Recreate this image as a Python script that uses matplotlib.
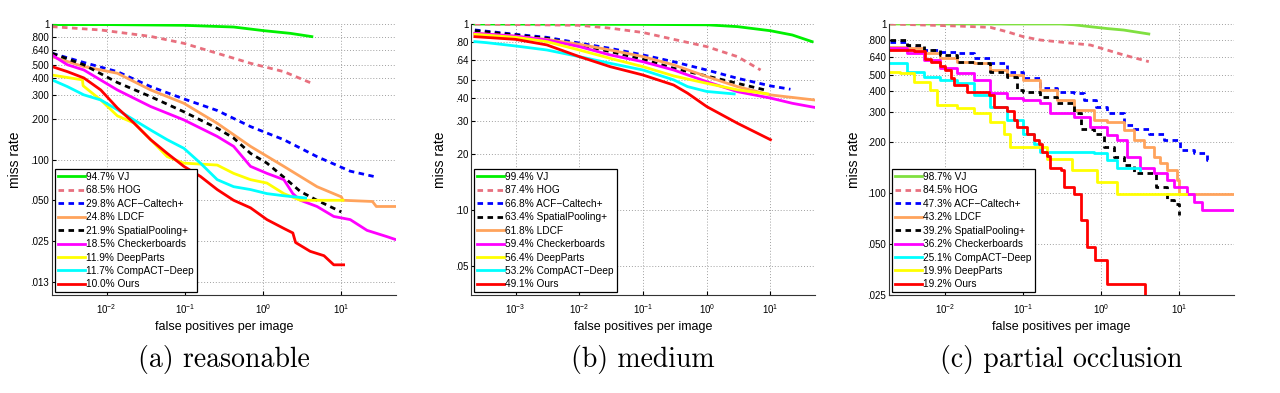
import matplotlib
matplotlib.use('Agg')
import matplotlib.pyplot as plt
from matplotlib.ticker import FixedLocator, FixedFormatter, NullLocator

plt.rcParams['font.family'] = ['Liberation Sans', 'DejaVu Sans']

# legend order and log-average miss rates per subset
names_a = ['VJ', 'HOG', 'ACF−Caltech+', 'LDCF', 'SpatialPooling+', 'Checkerboards',
           'DeepParts', 'CompACT−Deep', 'Ours']
scores_a = [94.7, 68.5, 29.8, 24.8, 21.9, 18.5, 11.9, 11.7, 10.0]
names_b = ['VJ', 'HOG', 'ACF−Caltech+', 'SpatialPooling+', 'LDCF', 'Checkerboards',
           'DeepParts', 'CompACT−Deep', 'Ours']
scores_b = [99.4, 87.4, 66.8, 63.4, 61.8, 59.4, 56.4, 53.2, 49.1]
names_c = ['VJ', 'HOG', 'ACF−Caltech+', 'LDCF', 'SpatialPooling+', 'Checkerboards',
           'CompACT−Deep', 'DeepParts', 'Ours']
scores_c = [98.7, 84.5, 47.3, 43.2, 39.2, 36.2, 25.1, 19.9, 19.2]

# (fppi, miss rate) points
# (a) reasonable
vj_a = [(0.002, 0.99), (0.01, 0.99), (0.097, 0.978), (0.42, 0.95), (1.02, 0.893),
        (2.23, 0.853), (4.2, 0.807)]
hog_a = [(0.002, 0.956), (0.0084, 0.903), (0.0365, 0.81), (0.097, 0.72), (0.259, 0.608),
         (0.69, 0.513), (1.84, 0.445), (4.2, 0.365)]
acf_a = [(0.002, 0.608), (0.0051, 0.52), (0.0137, 0.445), (0.0365, 0.345), (0.097, 0.28),
         (0.259, 0.23), (0.69, 0.175), (1.84, 0.14), (4.89, 0.105), (13, 0.082), (25.9, 0.075)]
ldcf_a = [(0.002, 0.574), (0.0051, 0.485), (0.0137, 0.433), (0.0365, 0.326), (0.097, 0.26),
          (0.259, 0.185), (0.69, 0.125), (1.84, 0.089), (4.89, 0.063), (10, 0.053),
          (10.5, 0.05), (25, 0.049), (28, 0.045), (50, 0.045)]
sp_a = [(0.002, 0.608), (0.0051, 0.5), (0.0137, 0.37), (0.0365, 0.291), (0.097, 0.225),
        (0.259, 0.17), (0.42, 0.144), (0.69, 0.111), (1.12, 0.094), (1.84, 0.074),
        (3.0, 0.058), (4.89, 0.05), (10, 0.041)]
cb_a = [(0.002, 0.59), (0.00315, 0.5), (0.0051, 0.458), (0.0137, 0.326), (0.0365, 0.246),
        (0.097, 0.196), (0.259, 0.148), (0.42, 0.125), (0.69, 0.089), (1.12, 0.079),
        (1.84, 0.071), (2.4, 0.056), (3.0, 0.05), (4.89, 0.045), (8, 0.038), (13, 0.036),
        (21.3, 0.03), (38, 0.027), (50, 0.0256)]
dp_a = [(0.002, 0.42), (0.0049, 0.387), (0.005, 0.35), (0.0084, 0.275), (0.0137, 0.21),
        (0.0223, 0.186), (0.0365, 0.14), (0.0594, 0.105), (0.097, 0.094), (0.259, 0.091),
        (0.42, 0.079), (0.69, 0.071), (1.12, 0.067), (1.84, 0.056), (3.0, 0.05), (10.5, 0.05)]
cad_a = [(0.002, 0.387), (0.00315, 0.345), (0.0051, 0.3), (0.0084, 0.275), (0.0137, 0.233),
         (0.0223, 0.196), (0.0365, 0.165), (0.0594, 0.14), (0.097, 0.121), (0.158, 0.094),
         (0.259, 0.071), (0.42, 0.063), (0.69, 0.06), (1.12, 0.056), (1.84, 0.054), (3.5, 0.052)]
ours_a = [(0.002, 0.485), (0.00315, 0.445), (0.0051, 0.4), (0.0084, 0.326), (0.0137, 0.24),
          (0.0223, 0.186), (0.0365, 0.14), (0.0594, 0.111), (0.097, 0.089), (0.158, 0.075),
          (0.259, 0.06), (0.42, 0.05), (0.69, 0.044), (1.12, 0.036), (1.84, 0.031),
          (2.4, 0.0287), (2.6, 0.0244), (4.0, 0.021), (6.0, 0.0195), (8.0, 0.0167), (10.7, 0.0167)]

# (b) medium
vj_b = [(2.3e-4, 1.0), (0.1, 0.995), (1.0, 0.99), (3.03, 0.968), (10, 0.92), (22, 0.873),
        (45, 0.804)]
hog_b = [(2.3e-4, 1.0), (0.01, 0.984), (0.0305, 0.95), (0.1, 0.9), (0.303, 0.827),
         (1.0, 0.756), (3.03, 0.668), (7.0, 0.566)]
acf_b = [(2.3e-4, 0.929), (1e-3, 0.88), (3.1e-3, 0.848), (0.01, 0.79), (0.0305, 0.74),
         (0.1, 0.682), (0.303, 0.627), (1.0, 0.566), (3.03, 0.511), (10, 0.465), (20.6, 0.446)]
sp_b = [(2.3e-4, 0.921), (1e-3, 0.873), (3.1e-3, 0.838), (0.01, 0.772), (0.0305, 0.711),
        (0.1, 0.646), (0.303, 0.578), (1.0, 0.526), (3.03, 0.48), (9, 0.439)]
ldcf_b = [(2.3e-4, 0.891), (1e-3, 0.855), (3.1e-3, 0.827), (0.01, 0.778), (0.0305, 0.725),
          (0.1, 0.668), (0.303, 0.603), (1.0, 0.522), (3.03, 0.461), (10, 0.416), (48, 0.391)]
cb_b = [(2.3e-4, 0.891), (1e-3, 0.862), (3.1e-3, 0.821), (0.01, 0.756), (0.0305, 0.682),
        (0.1, 0.627), (0.303, 0.566), (1.0, 0.49), (3.03, 0.433), (10, 0.4), (22, 0.375),
        (48, 0.357)]
dp_b = [(2.3e-4, 0.88), (1e-3, 0.848), (3.1e-3, 0.804), (0.01, 0.725), (0.0305, 0.654),
        (0.1, 0.59), (0.303, 0.526), (1.0, 0.48), (3.03, 0.443), (9, 0.421)]
cad_b = [(2.3e-4, 0.804), (3.5e-4, 0.794), (1e-3, 0.762), (3.1e-3, 0.725), (0.01, 0.668),
         (0.0305, 0.615), (0.1, 0.566), (0.303, 0.501), (0.5, 0.461), (1.0, 0.434), (2.7, 0.421)]
ours_b = [(2.3e-4, 0.855), (1e-3, 0.827), (3.1e-3, 0.772), (0.01, 0.668), (0.0305, 0.59),
          (0.1, 0.532), (0.303, 0.47), (0.5, 0.425), (1.0, 0.36), (3.03, 0.293), (10, 0.239)]

# (c) partial occlusion
vj_c = [(0.00197, 1.0), (0.3, 1.0), (0.44, 0.99), (0.72, 0.964), (1.18, 0.94), (1.93, 0.921),
        (4.05, 0.873)]
hog_c = [(0.00197, 1.0), (0.0141, 0.973), (0.0378, 0.955), (0.0618, 0.9), (0.1, 0.841),
         (0.165, 0.804), (0.27, 0.786), (0.442, 0.768), (0.723, 0.751), (1.18, 0.702),
         (1.93, 0.656), (4.05, 0.599)]
acf_c = [(0.00197, 0.786), (0.00323, 0.734), (0.00527, 0.702), (0.00863, 0.686), (0.0141, 0.671),
         (0.0231, 0.626), (0.0378, 0.585), (0.0618, 0.522), (0.1, 0.477), (0.165, 0.416),
         (0.27, 0.397), (0.442, 0.389), (0.6, 0.355), (0.85, 0.324), (1.18, 0.296),
         (1.93, 0.253), (2.6, 0.241), (4.05, 0.225), (6.3, 0.206), (10.3, 0.18), (15.3, 0.172),
         (22.6, 0.157), (24, 0.157)]
ldcf_c = [(0.00197, 0.734), (0.00323, 0.718), (0.00527, 0.671), (0.00863, 0.626), (0.0141, 0.599),
          (0.0231, 0.585), (0.0378, 0.534), (0.0618, 0.5), (0.1, 0.466), (0.165, 0.407),
          (0.27, 0.355), (0.442, 0.31), (0.8, 0.27), (1.18, 0.264), (1.93, 0.236), (2.6, 0.206),
          (3.49, 0.188), (4.69, 0.164), (5.7, 0.15), (6.95, 0.137), (9.33, 0.119), (9.8, 0.0995),
          (50, 0.0995)]
sp_c = [(0.00197, 0.804), (0.00323, 0.751), (0.00527, 0.702), (0.00863, 0.656), (0.0141, 0.599),
        (0.0231, 0.585), (0.0378, 0.522), (0.0618, 0.488), (0.083, 0.407), (0.1, 0.397),
        (0.165, 0.371), (0.27, 0.339), (0.442, 0.296), (0.54, 0.241), (0.8, 0.225),
        (1.07, 0.188), (1.44, 0.164), (1.93, 0.146), (2.6, 0.131), (5.0, 0.109),
        (6.95, 0.0909), (8.46, 0.0868), (10, 0.074)]
cb_c = [(0.00197, 0.718), (0.00323, 0.671), (0.00527, 0.612), (0.00863, 0.546), (0.0141, 0.51),
        (0.0231, 0.466), (0.0378, 0.389), (0.0618, 0.363), (0.1, 0.355), (0.165, 0.339),
        (0.222, 0.296), (0.442, 0.283), (0.723, 0.247), (1.18, 0.22), (1.59, 0.206),
        (2.13, 0.164), (3.16, 0.14), (4.7, 0.131), (7.0, 0.119), (8.46, 0.109), (12.5, 0.0995),
        (15.3, 0.0888), (19.5, 0.0796), (50, 0.0796)]
cad_c = [(0.00197, 0.585), (0.00323, 0.522), (0.00527, 0.488), (0.00863, 0.466), (0.0141, 0.445),
         (0.0231, 0.38), (0.0378, 0.324), (0.0618, 0.27), (0.1, 0.225), (0.135, 0.196),
         (0.165, 0.176), (0.8, 0.172), (1.18, 0.157), (1.59, 0.14), (3.16, 0.137)]
dp_c = [(0.00197, 0.522), (0.00265, 0.51), (0.00393, 0.456), (0.00642, 0.407), (0.00782, 0.331),
        (0.0141, 0.317), (0.0231, 0.296), (0.0378, 0.264), (0.056, 0.225), (0.068, 0.188),
        (0.2, 0.16), (0.42, 0.137), (0.88, 0.117), (1.59, 0.0988), (12, 0.0988)]
ours_c = [(0.00197, 0.702), (0.004, 0.69), (0.0055, 0.62), (0.0066, 0.6), (0.0086, 0.565),
          (0.01, 0.534), (0.0118, 0.48), (0.0128, 0.435), (0.019, 0.397), (0.036, 0.38),
          (0.0416, 0.324), (0.0618, 0.305), (0.075, 0.27), (0.083, 0.247), (0.111, 0.225),
          (0.135, 0.206), (0.16, 0.196), (0.175, 0.176), (0.2, 0.165), (0.22, 0.14),
          (0.3, 0.137), (0.33, 0.109), (0.44, 0.0995), (0.54, 0.0692), (0.66, 0.048),
          (0.84, 0.040), (1.18, 0.0292), (3.67, 0.025)]

curves_a = [vj_a, hog_a, acf_a, ldcf_a, sp_a, cb_a, dp_a, cad_a, ours_a]
curves_b = [vj_b, hog_b, acf_b, sp_b, ldcf_b, cb_b, dp_b, cad_b, ours_b]
curves_c = [vj_c, hog_c, acf_c, ldcf_c, sp_c, cb_c, cad_c, dp_c, ours_c]

dash = (0, (2.0, 1.6))
styles = {
    'VJ': ('#00f000', '-'),
    'HOG': ('#e8707e', dash),
    'ACF−Caltech+': ('#0000ff', dash),
    'LDCF': ('#ffa35c', '-'),
    'SpatialPooling+': ('#000000', dash),
    'Checkerboards': ('#ff00ff', '-'),
    'DeepParts': ('#ffff00', '-'),
    'CompACT−Deep': ('#00ffff', '-'),
    'Ours': ('#ff0000', '-'),
}


def draw_panel(rect, names, scores, curves, xlim, ylim, yticks, ylabels, xticks,
               caption, ylabel_x, stepped=False, vj_color=None):
    ax = fig.add_axes(rect)
    for name, score, pts in zip(names, scores, curves):
        color, ls = styles[name]
        if name == 'VJ' and vj_color:
            color = vj_color
        xs = [p[0] for p in pts]
        ys = [p[1] for p in pts]
        ds = 'steps-post' if stepped and name not in ('VJ', 'HOG') else 'default'
        ax.plot(xs, ys, color=color, linestyle=ls, lw=2.0, drawstyle=ds,
                label='%.1f%% %s' % (score, name))
    ax.set_xscale('log')
    ax.set_yscale('log')
    ax.set_xlim(*xlim)
    ax.set_ylim(*ylim)
    ax.yaxis.set_major_locator(FixedLocator(yticks))
    ax.yaxis.set_major_formatter(FixedFormatter(ylabels))
    ax.yaxis.set_minor_locator(NullLocator())
    ax.xaxis.set_major_locator(FixedLocator(xticks))
    ax.xaxis.set_minor_locator(NullLocator())
    ax.tick_params(direction='in', length=3, labelsize=7, pad=2)
    ax.tick_params(axis='x', pad=5)
    ax.grid(True, which='major', color='#a0a0a0', linestyle=(0, (1, 2)), lw=0.7)
    for s in ('top', 'right'):
        ax.spines[s].set_visible(False)
    for s in ('left', 'bottom'):
        ax.spines[s].set_color('#333333')
    ax.set_ylabel('miss rate', fontsize=10)
    ax.yaxis.set_label_coords(ylabel_x, 0.5)
    ax.set_xlabel('false positives per image', fontsize=9)
    ax.xaxis.set_label_coords(0.5, -0.095)
    leg = ax.legend(loc='lower left', fontsize=7.3, handlelength=2.7, handletextpad=0.15,
                    labelspacing=0.34, borderpad=0.3, borderaxespad=0.25, fancybox=False,
                    framealpha=1)
    leg.get_frame().set_edgecolor('black')
    leg.get_frame().set_linewidth(0.9)
    fig.text(rect[0] + rect[2] / 2, 0.085, caption, ha='center', va='center',
             fontsize=20, family='cmr10')
    return ax


fig = plt.figure(figsize=(12.8, 3.93), dpi=100)

draw_panel([52 / 1280, 98 / 393, 344 / 1280, 271 / 393], names_a, scores_a, curves_a,
           (0.002, 50), (0.01, 1),
           [0.0125, 0.025, 0.05, 0.1, 0.2, 0.3, 0.4, 0.5, 0.64, 0.8, 1],
           ['.013', '.025', '.050', '.100', '.200', '.300', '.400', '.500', '.640', '.800', '1'],
           [1e-2, 1e-1, 1, 10], '(a) reasonable', -0.087)
draw_panel([471 / 1280, 98 / 393, 344 / 1280, 271 / 393], names_b, scores_b, curves_b,
           (2e-4, 50), (0.035, 1),
           [0.05, 0.1, 0.2, 0.3, 0.4, 0.5, 0.64, 0.8, 1],
           ['.05', '.10', '.20', '.30', '.40', '.50', '.64', '.80', '1'],
           [1e-3, 1e-2, 1e-1, 1, 10], '(b) medium', -0.07)
draw_panel([889 / 1280, 98 / 393, 345 / 1280, 271 / 393], names_c, scores_c, curves_c,
           (0.0019, 50), (0.025, 1),
           [0.025, 0.05, 0.1, 0.2, 0.3, 0.4, 0.5, 0.64, 0.8, 1],
           ['.025', '.050', '.100', '.200', '.300', '.400', '.500', '.640', '.800', '1'],
           [1e-2, 1e-1, 1, 10], '(c) partial occlusion', -0.081, stepped=True,
           vj_color='#80e040')

fig.savefig('out.png', dpi=100)
